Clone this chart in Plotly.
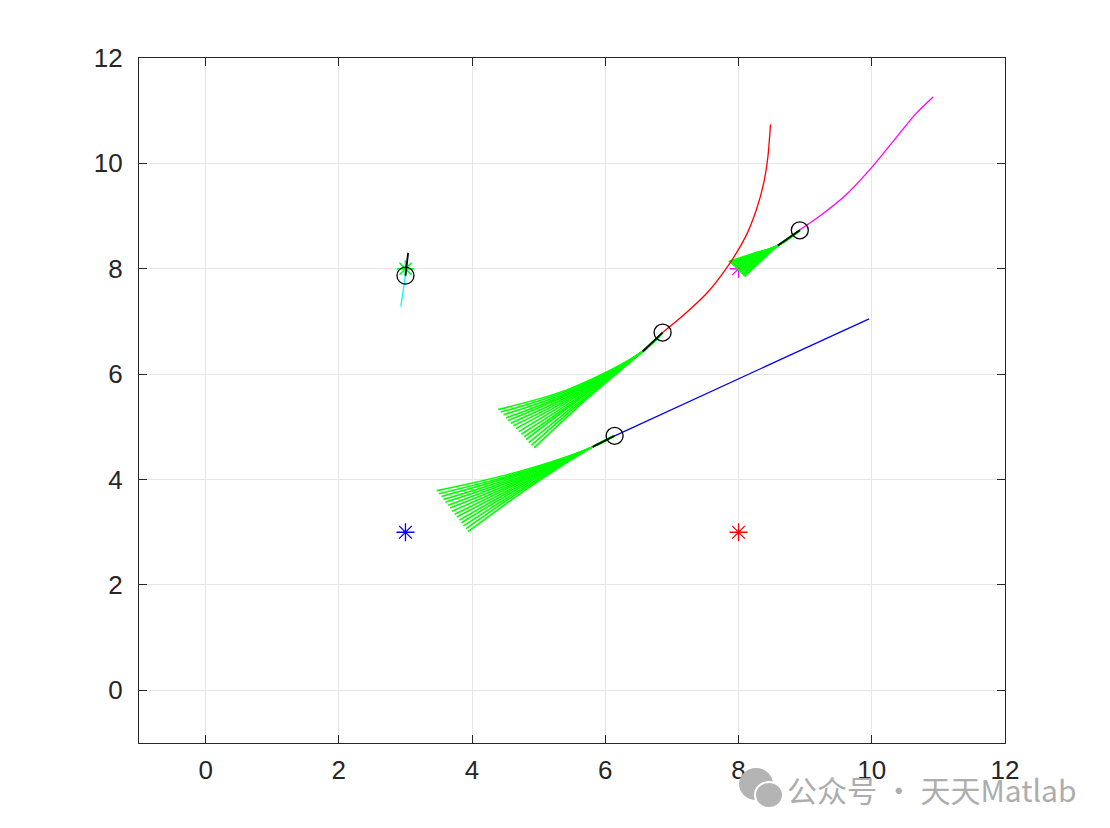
import plotly.graph_objects as go

# ---- goal stars ----
star_x = [3, 8, 3, 8]
star_y = [3, 3, 8, 8]
star_colors = ["#0000ff", "#ff0000", "#00ffff", "#ff00ff"]

# ---- travelled paths (history) ----
blue_x = [6.14, 9.96]
blue_y = [4.83, 7.05]
red_x = [6.86, 7.21, 7.54, 7.85, 8.11, 8.27, 8.38, 8.44, 8.48]
red_y = [6.79, 7.16, 7.56, 8.07, 8.62, 9.13, 9.64, 10.12, 10.74]
mag_x = [8.91, 9.24, 9.61, 9.99, 10.36, 10.66, 10.92]
mag_y = [8.73, 9.02, 9.40, 9.91, 10.48, 10.94, 11.26]
cyan_x = [2.93, 3.00]
cyan_y = [7.28, 7.87]

# ---- agent positions (circles) ----
agent_x = [6.14, 6.86, 8.92, 3.00]
agent_y = [4.83, 6.79, 8.73, 7.87]

# ---- selected short plan (black) end points ----
plan_end_x = [5.81, 6.56, 8.59, 3.04]
plan_end_y = [4.62, 6.43, 8.44, 8.30]

# ---- sampled trajectories (green fans) ----
# blue agent fan
fb_mid_x = [4.64, 4.66, 4.67, 4.69, 4.71, 4.72, 4.74, 4.75, 4.77, 4.79, 4.80, 4.82, 4.84, 4.85, 4.87]
fb_mid_y = [4.13, 4.11, 4.09, 4.07, 4.05, 4.03, 4.01, 3.99, 3.98, 3.96, 3.94, 3.92, 3.90, 3.88, 3.86]
fb_end_x = [3.47, 3.50, 3.54, 3.57, 3.60, 3.64, 3.67, 3.70, 3.74, 3.77, 3.81, 3.84, 3.87, 3.91, 3.94]
fb_end_y = [3.79, 3.73, 3.68, 3.62, 3.57, 3.51, 3.46, 3.40, 3.34, 3.29, 3.23, 3.18, 3.12, 3.07, 3.01]
# red agent fan
fr_mid_x = [5.48, 5.50, 5.52, 5.54, 5.55, 5.57, 5.59, 5.61, 5.63, 5.65, 5.67, 5.68, 5.70, 5.72, 5.74]
fr_mid_y = [5.73, 5.72, 5.70, 5.69, 5.68, 5.66, 5.65, 5.64, 5.63, 5.61, 5.60, 5.59, 5.57, 5.56, 5.55]
fr_end_x = [4.39, 4.43, 4.47, 4.51, 4.54, 4.58, 4.62, 4.66, 4.70, 4.74, 4.78, 4.81, 4.85, 4.89, 4.93]
fr_end_y = [5.33, 5.28, 5.23, 5.17, 5.12, 5.07, 5.02, 4.97, 4.91, 4.86, 4.81, 4.76, 4.70, 4.65, 4.60]
# magenta agent fan
fm_mid_x = [8.22, 8.23, 8.24, 8.25, 8.25, 8.26, 8.27, 8.28, 8.29, 8.30, 8.31, 8.31, 8.32, 8.33, 8.34]
fm_mid_y = [8.29, 8.28, 8.27, 8.26, 8.25, 8.24, 8.23, 8.22, 8.21, 8.20, 8.19, 8.18, 8.17, 8.16, 8.15]
fm_end_x = [7.85, 7.87, 7.88, 7.90, 7.92, 7.94, 7.95, 7.97, 7.99, 8.00, 8.02, 8.04, 8.06, 8.07, 8.09]
fm_end_y = [8.14, 8.12, 8.10, 8.08, 8.06, 8.04, 8.02, 8.00, 7.97, 7.95, 7.93, 7.91, 7.89, 7.87, 7.85]

tick_vals = [0, 2, 4, 6, 8, 10, 12]
tick_text = ["0", "2", "4", "6", "8", "10", "12"]

GREEN = "#00ff00"
fig = go.Figure()

# stars
for sx, sy, c in zip(star_x, star_y, star_colors):
    fig.add_trace(go.Scatter(x=[sx], y=[sy], mode="markers",
                             marker=dict(symbol="asterisk-open", size=15, color=c,
                                         line=dict(color=c, width=1.3)),
                             showlegend=False, hoverinfo="skip"))

# green fans
fans = [
    (0, fb_mid_x, fb_mid_y, fb_end_x, fb_end_y),
    (1, fr_mid_x, fr_mid_y, fr_end_x, fr_end_y),
    (2, fm_mid_x, fm_mid_y, fm_end_x, fm_end_y),
]
for ai, mx, my, ex, ey in fans:
    for k in range(len(mx)):
        fig.add_trace(go.Scatter(
            x=[agent_x[ai], plan_end_x[ai], mx[k], ex[k]],
            y=[agent_y[ai], plan_end_y[ai], my[k], ey[k]],
            mode="lines", line=dict(color=GREEN, width=1.6, shape="spline"),
            showlegend=False, hoverinfo="skip"))

# green overlay star for cyan agent (its short samples around the goal)
fig.add_trace(go.Scatter(x=[star_x[2]], y=[star_y[2]], mode="markers",
                         marker=dict(symbol="asterisk-open", size=13, color=GREEN,
                                     line=dict(color=GREEN, width=1.3)),
                         showlegend=False, hoverinfo="skip"))

# history paths
for px, py, c in [(blue_x, blue_y, "#0000ff"), (red_x, red_y, "#ff0000"),
                  (mag_x, mag_y, "#ff00ff"), (cyan_x, cyan_y, "#00ffff")]:
    fig.add_trace(go.Scatter(x=px, y=py, mode="lines",
                             line=dict(color=c, width=1.3, shape="spline", smoothing=0.8),
                             showlegend=False, hoverinfo="skip"))

# black plans
for i in range(len(agent_x)):
    fig.add_trace(go.Scatter(x=[agent_x[i], plan_end_x[i]], y=[agent_y[i], plan_end_y[i]],
                             mode="lines", line=dict(color="#000000", width=1.8),
                             showlegend=False, hoverinfo="skip"))

# agent circles
fig.add_trace(go.Scatter(x=agent_x, y=agent_y, mode="markers",
                         marker=dict(symbol="circle-open", size=17, color="#000000",
                                     line=dict(color="#000000", width=1.3)),
                         showlegend=False, hoverinfo="skip"))

axis_common = dict(
    range=[-1, 12], tickvals=tick_vals, ticktext=tick_text,
    showgrid=True, gridcolor="#e6e6e6", gridwidth=1,
    zeroline=False, showline=True, linecolor="#262626", linewidth=1.3,
    mirror="ticks", ticks="inside", ticklen=8, tickcolor="#262626", tickwidth=1.3,
    tickfont=dict(family="Liberation Sans, Arial, sans-serif", size=26, color="#262626"),
)

L, T, PW, PH = 131, 50, 866, 685
fig.update_layout(
    width=1110, height=828,
    margin=dict(l=L, r=1110 - L - PW, t=T, b=828 - T - PH),
    paper_bgcolor="white", plot_bgcolor="white",
    xaxis=dict(**axis_common, ticklabelstandoff=4),
    yaxis=dict(**axis_common, ticklabelstandoff=10),
)

# watermark (positions relative to the plot area in pixels)
def px_x(p):
    return (p - 138) / PW

def px_y(p):
    return (741 - p) / PH

fig.add_shape(type="circle", xref="paper", yref="paper",
              x0=px_x(738), x1=px_x(772), y0=px_y(798), y1=px_y(766),
              fillcolor="#b4b4b4", line=dict(color="#b4b4b4", width=0))
fig.add_shape(type="circle", xref="paper", yref="paper",
              x0=px_x(754), x1=px_x(782), y0=px_y(806), y1=px_y(780),
              fillcolor="#b4b4b4", line=dict(color="white", width=2))
fig.add_annotation(text="公众号 · 天天Matlab", xref="paper", yref="paper",
                   x=px_x(784), y=px_y(787),
                   xanchor="left", yanchor="middle", showarrow=False,
                   font=dict(family="Noto Sans CJK SC", size=30, color="#adadad"))

fig.write_html("out.html")
